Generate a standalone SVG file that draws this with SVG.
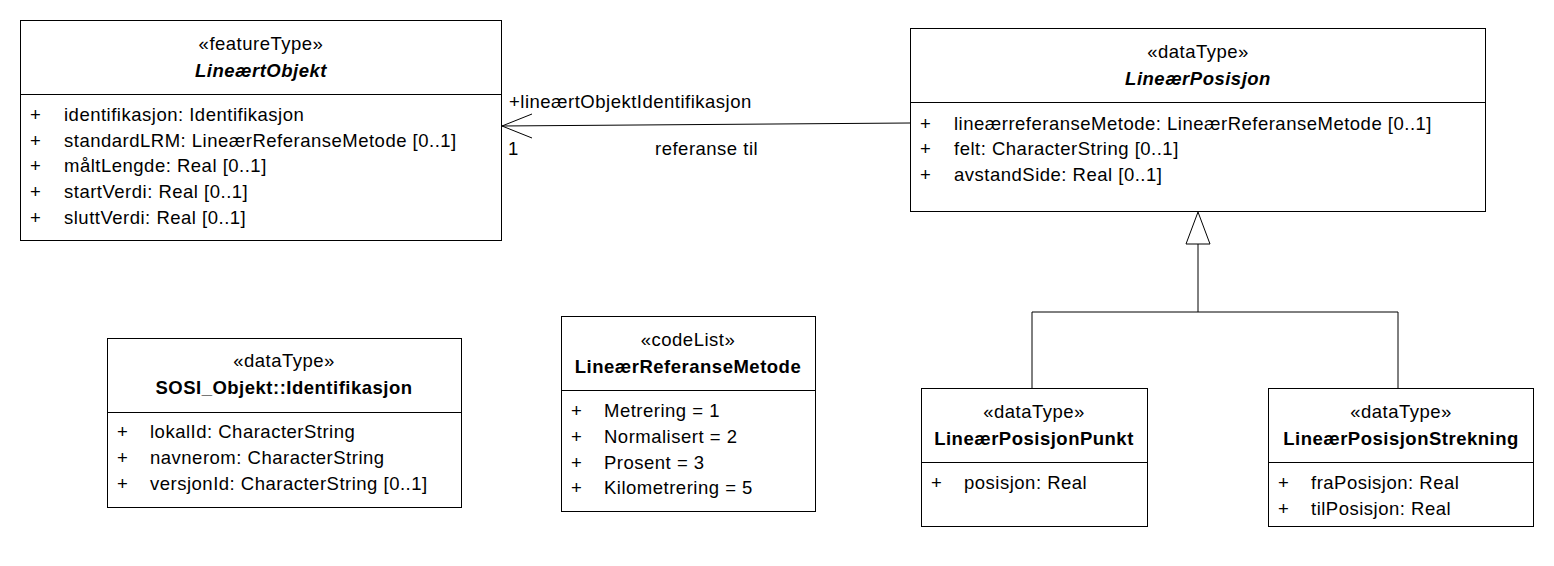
<svg xmlns="http://www.w3.org/2000/svg" width="1554" height="566" viewBox="0 0 1554 566">
<style>
text{font-family:"Liberation Sans",Arial,sans-serif;font-size:18.5px;letter-spacing:0.5px;fill:#000}
.c{text-anchor:middle}
.n{font-weight:bold}
.i{font-style:italic}
.box{fill:#fff;stroke:#000;stroke-width:1}
.ln{stroke:#000;stroke-width:1;fill:none}
</style>
<rect width="1554" height="566" fill="#fff"/>
<g id="connectors">
<polyline class="ln" points="910,123 502,126"/>
<polyline class="ln" points="532,114 502,126 532,138"/>
<text x="509" y="108">+lineærtObjektIdentifikasjon</text>
<text x="508" y="155">1</text>
<text x="655" y="155">referanse til</text>
<polyline class="ln" points="1032,388 1032,312 1398,312 1398,388"/>
<line class="ln" x1="1198" y1="312" x2="1198" y2="244"/>
<polygon class="box" points="1198,212 1186,244 1210,244"/>
</g>
<g id="LineaertObjekt">
<rect class="box" x="20.5" y="20.5" width="481" height="220"/>
<line class="ln" x1="20.5" y1="94.5" x2="501.5" y2="94.5"/>
<text class="c" x="261" y="50">«featureType»</text>
<text class="c n i" x="261" y="77">LineærtObjekt</text>
<text x="30" y="121">+</text><text x="64" y="121">identifikasjon: Identifikasjon</text>
<text x="30" y="147">+</text><text x="64" y="147">standardLRM: LineærReferanseMetode [0..1]</text>
<text x="30" y="172">+</text><text x="64" y="172">måltLengde: Real [0..1]</text>
<text x="30" y="198">+</text><text x="64" y="198">startVerdi: Real [0..1]</text>
<text x="30" y="224">+</text><text x="64" y="224">sluttVerdi: Real [0..1]</text>
</g>
<g id="LineaerPosisjon">
<rect class="box" x="910.5" y="28.5" width="575" height="183"/>
<line class="ln" x1="910.5" y1="102.5" x2="1485.5" y2="102.5"/>
<text class="c" x="1198" y="58">«dataType»</text>
<text class="c n i" x="1198" y="85">LineærPosisjon</text>
<text x="920" y="130">+</text><text x="954" y="130">lineærreferanseMetode: LineærReferanseMetode [0..1]</text>
<text x="920" y="155">+</text><text x="954" y="155">felt: CharacterString [0..1]</text>
<text x="920" y="181">+</text><text x="954" y="181">avstandSide: Real [0..1]</text>
</g>
<g id="Identifikasjon">
<rect class="box" x="107.5" y="338.5" width="354" height="169"/>
<line class="ln" x1="107.5" y1="412.5" x2="461.5" y2="412.5"/>
<text class="c" x="284" y="367">«dataType»</text>
<text class="c n" x="284" y="394">SOSI_Objekt::Identifikasjon</text>
<text x="117" y="438">+</text><text x="150" y="438">lokalId: CharacterString</text>
<text x="117" y="464">+</text><text x="150" y="464">navnerom: CharacterString</text>
<text x="117" y="490">+</text><text x="150" y="490">versjonId: CharacterString [0..1]</text>
</g>
<g id="LineaerReferanseMetode">
<rect class="box" x="561.5" y="316.5" width="254" height="195"/>
<line class="ln" x1="561.5" y1="390.5" x2="815.5" y2="390.5"/>
<text class="c" x="688" y="346">«codeList»</text>
<text class="c n" x="688" y="373">LineærReferanseMetode</text>
<text x="571" y="417">+</text><text x="604" y="417">Metrering = 1</text>
<text x="571" y="443">+</text><text x="604" y="443">Normalisert = 2</text>
<text x="571" y="469">+</text><text x="604" y="469">Prosent = 3</text>
<text x="571" y="494">+</text><text x="604" y="494">Kilometrering = 5</text>
</g>
<g id="LineaerPosisjonPunkt">
<rect class="box" x="921.5" y="388.5" width="226" height="138"/>
<line class="ln" x1="921.5" y1="462.5" x2="1147.5" y2="462.5"/>
<text class="c" x="1034" y="418">«dataType»</text>
<text class="c n" x="1034" y="445">LineærPosisjonPunkt</text>
<text x="931" y="489">+</text><text x="964" y="489">posisjon: Real</text>
</g>
<g id="LineaerPosisjonStrekning">
<rect class="box" x="1268.5" y="388.5" width="265" height="138"/>
<line class="ln" x1="1268.5" y1="462.5" x2="1533.5" y2="462.5"/>
<text class="c" x="1401" y="418">«dataType»</text>
<text class="c n" x="1401" y="445">LineærPosisjonStrekning</text>
<text x="1278" y="489">+</text><text x="1311" y="489">fraPosisjon: Real</text>
<text x="1278" y="515">+</text><text x="1311" y="515">tilPosisjon: Real</text>
</g>
</svg>
